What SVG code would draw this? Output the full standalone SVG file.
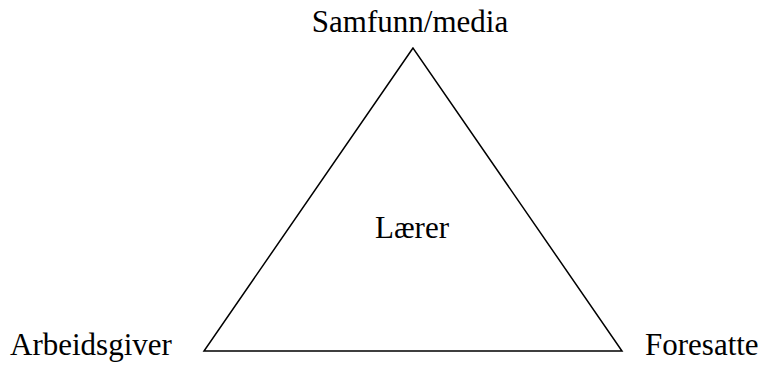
<svg xmlns="http://www.w3.org/2000/svg" width="767" height="365" viewBox="0 0 767 365">
<style>
.lbl{font-family:'Liberation Serif','Times New Roman','DejaVu Serif',serif;font-size:31px;fill:#000}
.edge{fill:none;stroke:#000;stroke-width:1.5}
</style>
<rect width="767" height="365" fill="#fff"/>
<g id="connectors">
<polygon class="edge" points="413,48 204,351 622,351"/>
</g>
<g id="node-samfunn"><text class="lbl" x="410" y="32" text-anchor="middle">Samfunn/media</text></g>
<g id="node-laerer"><text class="lbl" x="412" y="238" text-anchor="middle">Lærer</text></g>
<g id="node-arbeidsgiver"><text class="lbl" x="10" y="355">Arbeidsgiver</text></g>
<g id="node-foresatte"><text class="lbl" x="645" y="355">Foresatte</text></g>
</svg>
